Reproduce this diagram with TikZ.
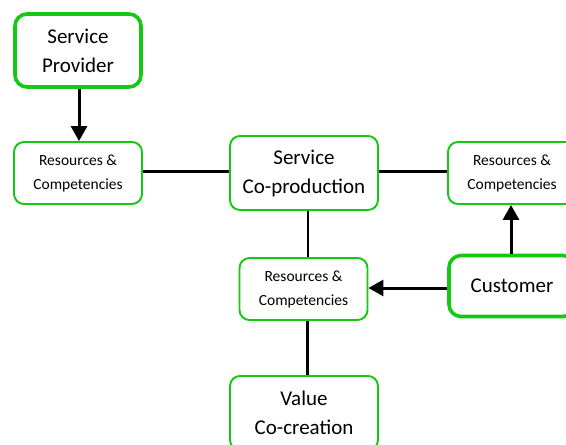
\documentclass[tikz,border=0pt]{standalone}
\usepackage{fontspec}
\setmainfont{Carlito}
\usetikzlibrary{arrows.meta}
\definecolor{boxgreen}{RGB}{20,200,20}
\tikzset{
  box/.style={draw=boxgreen, line width=1.9pt, rounded corners=10pt, fill=white,
    align=center, inner sep=0pt},
  bigbox/.style={box, line width=3.6pt, rounded corners=12pt},
  small/.style={font=\fontsize{15.5}{24}\selectfont},
  large/.style={font=\fontsize{21}{29}\selectfont},
  link/.style={draw=black, line width=2.2pt},
  arr/.style={draw=black, line width=3pt, -{Triangle[length=15pt,width=16pt]}},
}
\begin{document}
\begin{tikzpicture}[x=1pt,y=-1pt]
  \useasboundingbox (0,0) rectangle (566,445);
  \clip (0,0) rectangle (566,445);
  \fill[white] (0,0) rectangle (566,445);

  % boxes
  \node[bigbox, large, minimum width=126pt, minimum height=73pt] (sp) at (78,50.5) {Service\\Provider};
  \node[box, small, minimum width=128pt, minimum height=62pt] (rc1) at (78,173) {Resources \&\\Competencies};
  \node[box, large, minimum width=148pt, minimum height=74pt] (sc) at (304,173) {Service\\Co-production};
  \node[box, small, minimum width=128pt, minimum height=62pt] (rc2) at (512,173) {Resources \&\\Competencies};
  \node[box, small, minimum width=128pt, minimum height=62pt] (rc3) at (303.5,289) {Resources \&\\Competencies};
  \node[bigbox, large, minimum width=126pt, minimum height=61pt] (cu) at (512,286) {Customer};
  \node[box, large, minimum width=148pt, minimum height=74pt] (vc) at (304,413) {Value\\Co-creation};

  % plain links
  \draw[link] ([yshift=1.5pt]rc1.east) -- ([yshift=1.5pt]rc1.east -| sc.west);
  \draw[link] ([yshift=1.5pt]sc.east) -- ([yshift=1.5pt]sc.east -| rc2.west);
  \draw[link] ([xshift=4pt]sc.south) -- ([xshift=4pt]sc.south |- rc3.north);
  \draw[link] ([xshift=4pt]rc3.south) -- ([xshift=4pt]rc3.south |- vc.north);

  % arrows
  \draw[arr] ([xshift=1pt]sp.south) -- ([xshift=1pt]sp.south |- rc1.north);
  \draw[arr] ([xshift=-1pt]cu.north) -- ([xshift=-1pt]cu.north |- rc2.south);
  \draw[arr] ([yshift=1pt]cu.west |- rc3.east) -- ([yshift=1pt]rc3.east);
\end{tikzpicture}
\end{document}
